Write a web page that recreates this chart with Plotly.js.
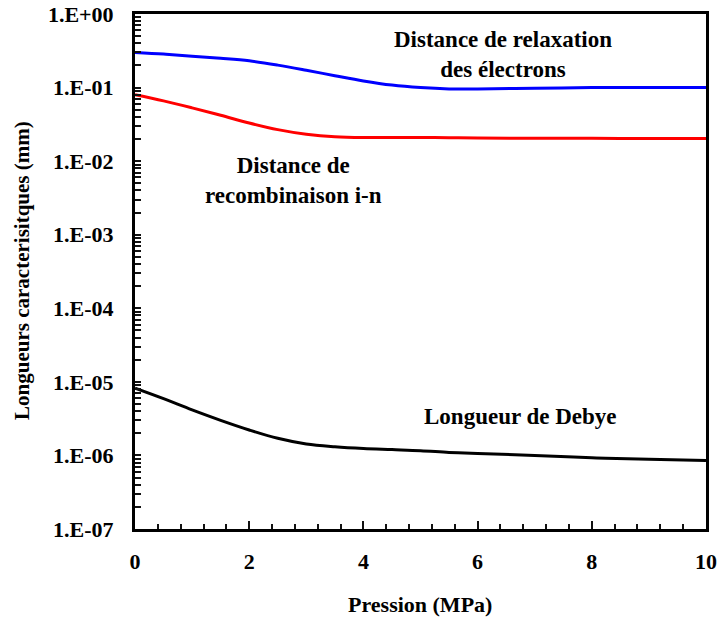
<!DOCTYPE html>
<html>
<head>
<meta charset="utf-8">
<script src="https://cdn.plot.ly/plotly-3.0.1.min.js"></script>
<style>
html,body{margin:0;padding:0;background:#fff;}
#plot{width:720px;height:619px;}
#plot svg text{font-family:'Liberation Serif', serif !important;}
</style>
</head>
<body>
<div id="plot"></div>
<script>
const pressure = [0, 0.5, 1, 1.5, 2, 2.5, 3, 3.5, 4, 4.5, 5, 5.5, 6, 7, 8, 9, 10];
const relaxationElectrons = [0.30, 0.285, 0.267, 0.25, 0.231, 0.202, 0.172, 0.145, 0.123, 0.108, 0.1, 0.096, 0.096, 0.098, 0.1, 0.1, 0.1];
const recombinaisonIN = [0.080, 0.066, 0.053, 0.042, 0.033, 0.0268, 0.0232, 0.0214, 0.0209, 0.0210, 0.0210, 0.0208, 0.0206, 0.0205, 0.0204, 0.0203, 0.0203];
const longueurDebye = [8.2e-6, 5.9e-6, 4.16e-6, 3.0e-6, 2.22e-6, 1.71e-6, 1.43e-6, 1.31e-6, 1.24e-6, 1.2e-6, 1.16e-6, 1.1e-6, 1.06e-6, 1.0e-6, 9.3e-7, 8.9e-7, 8.5e-7];
const yMajorVals = [1e-7, 1e-6, 1e-5, 1e-4, 1e-3, 1e-2, 1e-1, 1];
const yMajorText = ["1.E-07", "1.E-06", "1.E-05", "1.E-04", "1.E-03", "1.E-02", "1.E-01", "1.E+00"];

// log-axis tick positions: decade labels plus unlabeled 2..9 sub-ticks
const yTickVals = yMajorVals.slice();
const yTickText = yMajorText.slice();
for (let e = -7; e < 0; e++) {
  for (let m = 2; m <= 9; m++) { yTickVals.push(m * Math.pow(10, e)); yTickText.push(""); }
}

const FAM = "Liberation Serif";
const traces = [
  {x: pressure, y: relaxationElectrons, mode: "lines", line: {color: "#0000ff", width: 3, shape: "spline", smoothing: 1}},
  {x: pressure, y: recombinaisonIN, mode: "lines", line: {color: "#ff0000", width: 3, shape: "spline", smoothing: 1}},
  {x: pressure, y: longueurDebye, mode: "lines", line: {color: "#000000", width: 3, shape: "spline", smoothing: 1}}
];
const layout = {
  width: 720, height: 619,
  margin: {l: 135, r: 14, t: 14, b: 90},
  paper_bgcolor: "#fff", plot_bgcolor: "#fff",
  showlegend: false,
  font: {family: FAM, size: 22, color: "#000"},
  xaxis: {
    range: [0, 10], dtick: 2,
    ticks: "inside", ticklen: 8, tickwidth: 2, tickcolor: "#111",
    minor: {tickmode: "linear", dtick: 0.4, ticks: "inside", ticklen: 5, tickwidth: 2, tickcolor: "#111", showgrid: false},
    showline: true, linewidth: 3, linecolor: "#000", mirror: true,
    showgrid: false, zeroline: false,
    ticklabelstandoff: 11,
    tickfont: {family: FAM, size: 22, color: "#000", weight: "bold"}
  },
  yaxis: {
    type: "log", range: [-7, 0],
    tickmode: "array", tickvals: yTickVals, ticktext: yTickText,
    ticks: "inside", ticklen: 6, tickwidth: 2, tickcolor: "#111",
    showline: true, linewidth: 3, linecolor: "#000", mirror: true,
    showgrid: false, zeroline: false,
    ticklabelstandoff: 14,
    tickfont: {family: FAM, size: 22, color: "#000", weight: "bold"}
  },
  annotations: [
    {xref: "paper", yref: "paper", x: 0.499, y: -0.146, xanchor: "center", yanchor: "middle", text: "<b>Pression (MPa)</b>", showarrow: false, font: {family: FAM, size: 22, color: "#000"}},
    {xref: "paper", yref: "paper", x: -0.198, y: 0.503, xanchor: "center", yanchor: "middle", textangle: -90, text: "<b>Longueurs caracterisitques (mm)</b>", showarrow: false, font: {family: FAM, size: 21, color: "#000"}},
    {xref: "paper", yref: "paper", x: 0.644, y: 0.922, xanchor: "center", yanchor: "middle", text: "<b>Distance de relaxation<br>des électrons</b>", showarrow: false, align: "center", font: {family: FAM, size: 23, color: "#000"}},
    {xref: "paper", yref: "paper", x: 0.277, y: 0.676, xanchor: "center", yanchor: "middle", text: "<b>Distance de<br>recombinaison i-n</b>", showarrow: false, align: "center", font: {family: FAM, size: 23, color: "#000"}},
    {xref: "paper", yref: "paper", x: 0.676, y: 0.2175, xanchor: "center", yanchor: "middle", text: "<b>Longueur de Debye</b>", showarrow: false, align: "center", font: {family: FAM, size: 23, color: "#000"}}
  ]
};
Plotly.newPlot("plot", traces, layout, {staticPlot: true});
</script>
</body>
</html>
